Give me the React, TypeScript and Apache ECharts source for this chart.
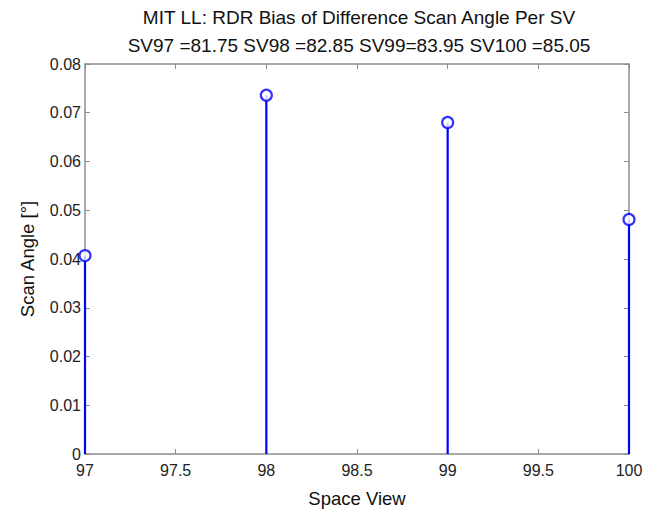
import React, { useEffect, useRef } from "react";
import * as echarts from "echarts";

const spaceViews = [97, 98, 99, 100];
const biasValues = [0.0407, 0.0736, 0.068, 0.0481];
const titleLine1 = "MIT LL: RDR Bias of Difference Scan Angle Per SV";
const titleLine2 = "SV97 =81.75 SV98 =82.85 SV99=83.95 SV100 =85.05";
const xAxisName = "Space View";
const yAxisName = "Scan Angle [°]";

const AXIS_COLOR = "#8c8c8c";
const TEXT_COLOR = "#222";
const FONT = "Liberation Sans, Arial, Helvetica, sans-serif";

export default function App() {
  const ref = useRef<HTMLDivElement>(null);
  useEffect(() => {
    if (!ref.current) return;
    const chart = echarts.init(ref.current, undefined, { renderer: "svg" });
    const data = spaceViews.map((x, i) => [x, biasValues[i]]);
    const axisCommon = {
      type: "value" as const,
      axisLine: { show: true, onZero: false, lineStyle: { color: AXIS_COLOR, width: 1.5 } },
      axisTick: { show: true, inside: true, length: 5, lineStyle: { color: AXIS_COLOR, width: 1 } },
      splitLine: { show: false },
    };
    chart.setOption({
      animation: false,
      backgroundColor: "#fff",
      textStyle: { fontFamily: FONT },
      grid: { left: 85, right: 27, top: 64, bottom: 48, containLabel: false },
      graphic: [
        {
          type: "text",
          x: 359,
          y: 17,
          style: {
            text: titleLine1,
            fontSize: 19,
            fontFamily: FONT,
            fill: "#111",
            align: "center",
            verticalAlign: "middle",
          },
        },
        {
          type: "text",
          x: 359,
          y: 45,
          style: {
            text: titleLine2,
            fontSize: 19,
            fontFamily: FONT,
            fill: "#111",
            align: "center",
            verticalAlign: "middle",
          },
        },
      ],
      xAxis: [
        {
          ...axisCommon,
          position: "bottom",
          min: 97,
          max: 100,
          interval: 0.5,
          axisLabel: {
            show: true,
            color: TEXT_COLOR,
            fontSize: 16,
            fontFamily: FONT,
            margin: 8,
            formatter: (v: number) => String(v),
          },
          name: xAxisName,
          nameLocation: "middle",
          nameGap: 35,
          nameTextStyle: { fontSize: 18.5, color: "#111", fontFamily: FONT },
        },
        {
          ...axisCommon,
          position: "top",
          min: 97,
          max: 100,
          interval: 0.5,
          axisLabel: { show: false },
        },
      ],
      yAxis: [
        {
          ...axisCommon,
          position: "left",
          min: 0,
          max: 0.08,
          interval: 0.01,
          axisLabel: {
            show: true,
            color: TEXT_COLOR,
            fontSize: 16,
            fontFamily: FONT,
            margin: 4,
            formatter: (v: number) => (v === 0 ? "0" : v.toFixed(2)),
          },
          name: yAxisName,
          nameLocation: "middle",
          nameRotate: 90,
          nameGap: 48,
          nameTextStyle: { fontSize: 18.5, color: "#111", fontFamily: FONT },
        },
        {
          ...axisCommon,
          position: "right",
          min: 0,
          max: 0.08,
          interval: 0.01,
          axisLabel: { show: false },
        },
      ],
      series: [
        {
          type: "custom",
          xAxisIndex: 0,
          yAxisIndex: 0,
          clip: false,
          z: 5,
          encode: { x: 0, y: 1 },
          data,
          renderItem: (params: any, api: any) => {
            const x = api.value(0);
            const y = api.value(1);
            const p0 = api.coord([x, 0]);
            const p1 = api.coord([x, y]);
            return {
              type: "line",
              shape: { x1: p0[0], y1: p0[1], x2: p1[0], y2: p1[1] },
              style: { stroke: "#0000ff", lineWidth: 2.2 },
            };
          },
        },
        {
          type: "scatter",
          xAxisIndex: 0,
          yAxisIndex: 0,
          clip: false,
          z: 6,
          data,
          symbol: "circle",
          symbolSize: 11,
          itemStyle: { color: "#fff", borderColor: "#0000ff", borderWidth: 2.2 },
        },
      ],
    });
    return () => chart.dispose();
  }, []);
  return (
    <div
      ref={ref}
      style={{ position: "absolute", left: 0, top: 0, width: 656, height: 513 }}
    />
  );
}
